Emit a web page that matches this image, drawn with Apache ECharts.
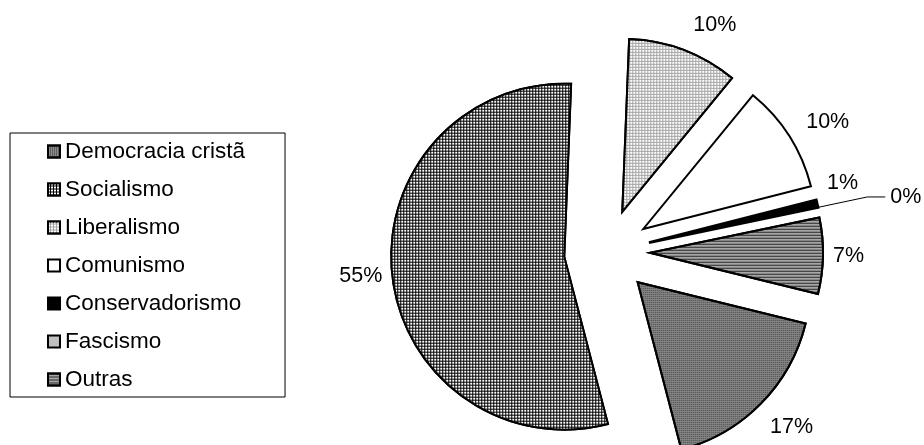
<!DOCTYPE html>
<html>
<head>
<meta charset="utf-8">
<script src="https://cdn.jsdelivr.net/npm/echarts@6/dist/echarts.min.js"></script>
<style>
html,body{margin:0;padding:0;background:#fff;}
#chart{width:924px;height:445px;}
</style>
</head>
<body>
<div id="chart"></div>
<script>
// ---- data ----
const categories = ['Democracia cristã', 'Socialismo', 'Liberalismo', 'Comunismo', 'Conservadorismo', 'Fascismo', 'Outras'];
const shares = [17.1, 54.7, 10.3, 10.1, 0.6, 0.1, 7.1];

// ---- styles (kept apart from data) ----
const fillColors = ['#8a8a8a', '#000000', '#a4a4a4', '#ffffff', '#000000', '#c0c0c0', '#a6a6a6'];
const decals = [
  { symbol: 'rect', symbolSize: 1, dashArrayX: [1, 1], dashArrayY: [1, 1], color: '#3a3a3a' },
  { symbol: 'rect', symbolSize: 1, dashArrayX: [2, 1], dashArrayY: [2, 1], color: '#ffffff' },
  { symbol: 'rect', symbolSize: 1, dashArrayX: [2, 1], dashArrayY: [2, 1], color: '#ffffff' },
  'none',
  'none',
  'none',
  { symbol: 'rect', symbolSize: 1, dashArrayX: [1, 0], dashArrayY: [1, 2], color: '#2a2a2a' }
];
const labelLineLen = [20, 10, 27, 26, 10, 50, 10];
const labelLineLen2 = [0, 0, 0, 0, 0, 18, 0];
const labelNudge = [[-5, 9], [0, 0], [0, 0], [-5, 0], [0, -17], [0, 0], [0, 0]];

const FONT = "'Liberation Sans', Arial, sans-serif";

const pieData = categories.map((name, i) => {
  const item = {
    name: name,
    value: shares[i],
    selected: true,
    itemStyle: { color: fillColors[i] },
    labelLine: { show: i === 5, length: labelLineLen[i], length2: labelLineLen2[i] },
    label: i === 5 ? { distanceToLabelLine: 5 } : {}
  };
  if (decals[i] !== 'none') item.itemStyle.decal = decals[i];
  return item;
});

const chart = echarts.init(document.getElementById('chart'), null, { renderer: 'canvas' });
chart.setOption({
  animation: false,
  backgroundColor: '#ffffff',
  legend: {
    orient: 'vertical',
    left: 10,
    top: 133,
    icon: 'rect',
    itemWidth: 12,
    itemHeight: 12,
    itemGap: 15,
    selectedMode: false,
    padding: [7, 40, 6, 37],
    borderColor: '#000',
    borderWidth: 1,
    textStyle: { fontSize: 22.5, fontFamily: FONT, color: '#000' },
    itemStyle: { borderColor: '#000', borderWidth: 2 },
    data: categories
  },
  series: [{
    type: 'pie',
    center: [607, 252],
    radius: [0, 173],
    startAngle: -13.8,
    clockwise: true,
    selectedMode: 'multiple',
    selectedOffset: 43,
    avoidLabelOverlap: false,
    emphasis: { disabled: true },
    itemStyle: { borderColor: '#000', borderWidth: 2, borderJoin: 'miter' },
    select: { itemStyle: { borderColor: '#000', borderWidth: 2 } },
    label: {
      show: true,
      position: 'outside',
      distanceToLabelLine: 0,
      fontSize: 21.5,
      fontFamily: FONT,
      color: '#000',
      formatter: p => Math.round(p.percent) + '%'
    },
    labelLine: { lineStyle: { color: '#000', width: 1 } },
    labelLayout: function (p) {
      const n = labelNudge[p.dataIndex];
      return { dx: n[0], dy: n[1] };
    },
    data: pieData
  }]
});
</script>
</body>
</html>
